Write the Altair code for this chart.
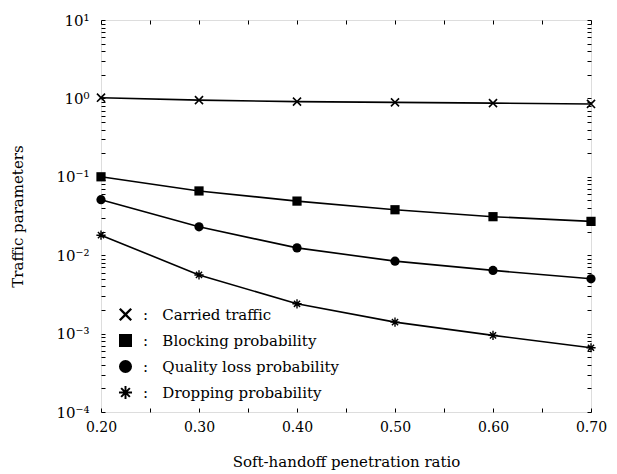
import altair as alt
import pandas as pd

x_vals = [0.20, 0.30, 0.40, 0.50, 0.60, 0.70]
series_names = ["Carried traffic", "Blocking probability",
                "Quality loss probability", "Dropping probability"]
carried = [1.02, 0.95, 0.91, 0.89, 0.87, 0.85]
blocking = [0.100, 0.066, 0.049, 0.038, 0.031, 0.027]
quality = [0.051, 0.023, 0.0124, 0.0084, 0.0064, 0.0050]
dropping = [0.018, 0.0056, 0.0024, 0.0014, 0.00095, 0.00066]

x_major = [0.2, 0.3, 0.4, 0.5, 0.6, 0.7]
x_ticks = [0.2, 0.25, 0.3, 0.35, 0.4, 0.45, 0.5, 0.55, 0.6, 0.65, 0.7]
decades = [1e-4, 1e-3, 1e-2, 1e-1, 1e0, 1e1]

rows = []
for name, vals in zip(series_names, [carried, blocking, quality, dropping]):
    for xv, yv in zip(x_vals, vals):
        rows.append({"ratio": xv, "value": yv, "series": name})
df = pd.DataFrame(rows)

y_ticks = []
for d in decades[:-1]:
    for m in range(1, 10):
        y_ticks.append(round(d * m, 12))
y_ticks.append(10.0)

X_SHAPE = ("M-1,-0.75L-0.75,-1L0,-0.25L0.75,-1L1,-0.75L0.25,0L1,0.75L0.75,1"
           "L0,0.25L-0.75,1L-1,0.75L-0.25,0Z")
AST_SHAPE = ("M-1,-0.15L1,-0.15L1,0.15L-1,0.15Z M-0.15,-1L0.15,-1L0.15,1L-0.15,1Z "
             "M-0.78,-0.56L-0.56,-0.78L0.78,0.56L0.56,0.78Z "
             "M0.56,-0.78L0.78,-0.56L-0.56,0.78L-0.78,0.56Z")
shape_range = [X_SHAPE, "square", "circle", AST_SHAPE]

sup = {1: "¹", 0: "⁰", -1: "⁻¹", -2: "⁻²", -3: "⁻³", -4: "⁻⁴"}
e_expr = "round(log(datum.value)/LN10)"
inner = "''"
for e, s in sup.items():
    inner = f"({e_expr}=={e} ? '10{s}' : {inner})"
y_label_expr = f"abs(log(datum.value)/LN10 - {e_expr}) < 0.0001 ? {inner} : ''"
x_label_expr = ("abs(datum.value*10 - round(datum.value*10)) < 0.0001 ? "
                "format(datum.value, '.2f') : ''")

FONT = "DejaVu Serif"
x_scale = alt.Scale(domain=[0.2, 0.7], nice=False, zero=False)
y_scale = alt.Scale(type="log", domain=[1e-4, 10], nice=False)

tick_common = dict(domain=False, tickColor="black", tickWidth=1, tickSize=4,
                   offset=-4, grid=False)

x_axis_bottom = alt.Axis(values=x_ticks, labelExpr=x_label_expr, orient="bottom",
                         title="Soft-handoff penetration ratio", labelFont=FONT,
                         labelFontSize=14, labelColor="black", titleFont=FONT,
                         titleFontSize=15, titleFontWeight="normal", titleColor="black",
                         labelPadding=8, titlePadding=20, labelFlush=False, **tick_common)
y_axis_left = alt.Axis(values=y_ticks, labelExpr=y_label_expr, orient="left",
                       title="Traffic parameters", labelFont=FONT, labelFontSize=15,
                       labelColor="black", titleFont=FONT, titleFontSize=15,
                       titleFontWeight="normal", titleColor="black", labelPadding=12,
                       titlePadding=30, labelFlush=False, labelOverlap=False,
                       **tick_common)
x_axis_top = alt.Axis(values=x_ticks, labels=False, title=None, orient="top",
                      **tick_common)
y_axis_right = alt.Axis(values=y_ticks, labels=False, title=None, orient="right",
                        **tick_common)

base = alt.Chart(df)

lines = base.mark_line(color="black", strokeWidth=1.6).encode(
    x=alt.X("ratio:Q", scale=x_scale, axis=x_axis_bottom),
    y=alt.Y("value:Q", scale=y_scale, axis=y_axis_left),
    detail="series:N",
)

points = base.mark_point(filled=True, color="black", size=85, opacity=1).encode(
    x=alt.X("ratio:Q", scale=x_scale, axis=None),
    y=alt.Y("value:Q", scale=y_scale, axis=None),
    shape=alt.Shape("series:N", scale=alt.Scale(domain=series_names, range=shape_range),
                    legend=alt.Legend(
                        title=None, orient="none", legendX=17, legendY=287,
                        direction="vertical", labelFont=FONT, labelFontSize=15,
                        labelColor="black", labelLimit=0, symbolSize=170,
                        symbolFillColor="black", symbolStrokeColor="black",
                        symbolStrokeWidth=0, padding=0, rowPadding=10, labelOffset=10,
                        labelExpr="':\u00a0\u00a0\u00a0' + datum.label")),
)

frame_axes = base.mark_point(opacity=0).encode(
    x=alt.X("ratio:Q", scale=x_scale, axis=x_axis_top),
    y=alt.Y("value:Q", scale=y_scale, axis=y_axis_right),
)

chart = alt.layer(lines, points, frame_axes).resolve_axis(
    x="independent", y="independent"
).properties(
    width=490, height=392,
    autosize=alt.AutoSizeParams(type="none"),
    padding={"left": 93, "top": 12, "right": 18, "bottom": 58},
).configure_view(stroke="black", strokeWidth=1.5).configure(background="white")

chart.save("out.html", embed_options={"renderer": "svg", "actions": False})
